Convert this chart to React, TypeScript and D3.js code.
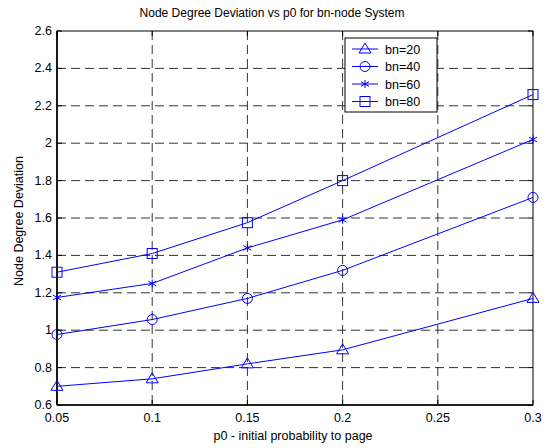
import React, { useEffect, useRef } from 'react';
import * as d3 from 'd3';

// valores
const p0 = [0.05, 0.1, 0.15, 0.2, 0.3];
const bn20 = [0.70, 0.74, 0.82, 0.895, 1.17];
const bn40 = [0.977, 1.057, 1.17, 1.32, 1.71];
const bn60 = [1.175, 1.25, 1.44, 1.59, 2.02];
const bn80 = [1.31, 1.41, 1.575, 1.80, 2.26];
const seriesNames = ['bn=20', 'bn=40', 'bn=60', 'bn=80'];
const markerKinds = ['triangle', 'circle', 'star', 'square'];
const xTicks = [0.05, 0.1, 0.15, 0.2, 0.25, 0.3];
const yTicks = [0.6, 0.8, 1, 1.2, 1.4, 1.6, 1.8, 2, 2.2, 2.4, 2.6];

const App = () => {
  const chartRef = useRef<SVGSVGElement | null>(null);

  useEffect(() => {
    const svg = d3.select(chartRef.current);
    svg.selectAll('*').remove();

    const W = 550;
    const H = 448;
    const left = 57, right = 533, top = 31, bottom = 405;
    const font = 'Liberation Sans, Arial, Helvetica, sans-serif';
    const blue = '#0000ff';

    const x = d3.scaleLinear().domain([0.05, 0.3]).range([left, right]);
    const y = d3.scaleLinear().domain([0.6, 2.6]).range([bottom, top]);

    svg.append('rect').attr('width', W).attr('height', H).attr('fill', '#fff');

    // grade tracejada
    const grid = svg.append('g').attr('stroke', '#333').attr('stroke-width', 1).attr('stroke-dasharray', '9,5');
    xTicks.slice(1, -1).forEach(t => {
      grid.append('line').attr('x1', x(t)).attr('x2', x(t)).attr('y1', top).attr('y2', bottom);
    });
    yTicks.slice(1, -1).forEach(t => {
      grid.append('line').attr('x1', left).attr('x2', right).attr('y1', y(t)).attr('y2', y(t));
    });

    // caixa dos eixos
    svg.append('rect')
      .attr('x', left).attr('y', top)
      .attr('width', right - left).attr('height', bottom - top)
      .attr('fill', 'none').attr('stroke', '#000').attr('stroke-width', 1);
    svg.append('line').attr('x1', left).attr('x2', left).attr('y1', top).attr('y2', bottom)
      .attr('stroke', '#000').attr('stroke-width', 1.6);
    svg.append('line').attr('x1', left).attr('x2', right).attr('y1', bottom).attr('y2', bottom)
      .attr('stroke', '#000').attr('stroke-width', 1.4);

    // ticks para dentro
    const ticks = svg.append('g').attr('stroke', '#000').attr('stroke-width', 1);
    xTicks.forEach(t => {
      ticks.append('line').attr('x1', x(t)).attr('x2', x(t)).attr('y1', bottom).attr('y2', bottom - 5);
      ticks.append('line').attr('x1', x(t)).attr('x2', x(t)).attr('y1', top).attr('y2', top + 5);
    });
    yTicks.forEach(t => {
      ticks.append('line').attr('x1', left).attr('x2', left + 5).attr('y1', y(t)).attr('y2', y(t));
      ticks.append('line').attr('x1', right).attr('x2', right - 5).attr('y1', y(t)).attr('y2', y(t));
    });

    // rótulos dos ticks
    svg.append('g').selectAll('text').data(xTicks).enter().append('text')
      .attr('x', d => x(d)).attr('y', bottom + 17)
      .attr('text-anchor', 'middle')
      .attr('font-family', font).attr('font-size', 12.5)
      .text(d => String(d));

    svg.append('g').selectAll('text').data(yTicks).enter().append('text')
      .attr('x', left - 5).attr('y', d => y(d) + 4)
      .attr('text-anchor', 'end')
      .attr('font-family', font).attr('font-size', 12.5)
      .text(d => String(d));

    // títulos
    svg.append('text').attr('x', 272).attr('y', 17).attr('text-anchor', 'middle')
      .attr('font-family', font).attr('font-size', 12)
      .text('Node Degree Deviation vs p0 for bn-node System');
    svg.append('text').attr('x', 293).attr('y', 440).attr('text-anchor', 'middle')
      .attr('font-family', font).attr('font-size', 12.5)
      .text('p0 - initial probability to page');
    svg.append('text').attr('transform', `translate(23,221) rotate(-90)`)
      .attr('text-anchor', 'middle')
      .attr('font-family', font).attr('font-size', 12.5)
      .text('Node Degree Deviation');

    const drawMarker = (g: any, kind: string, cx: number, cy: number) => {
      const m = g.append('g').attr('fill', 'none').attr('stroke', blue).attr('stroke-width', 1);
      if (kind === 'triangle') {
        m.append('path').attr('d', `M${cx},${cy - 6}L${cx + 6},${cy + 4}L${cx - 6},${cy + 4}Z`);
      } else if (kind === 'circle') {
        m.append('circle').attr('cx', cx).attr('cy', cy).attr('r', 5);
      } else if (kind === 'square') {
        m.append('rect').attr('x', cx - 5).attr('y', cy - 5).attr('width', 10).attr('height', 10);
      } else {
        const r = 4;
        m.append('path').attr('d',
          `M${cx},${cy - r}V${cy + r}` +
          `M${cx - r},${cy - r * 0.6}L${cx + r},${cy + r * 0.6}` +
          `M${cx - r},${cy + r * 0.6}L${cx + r},${cy - r * 0.6}`);
      }
    };

    const allSeries = [bn20, bn40, bn60, bn80];
    const line = d3.line<number>().x((d, i) => x(p0[i])).y(d => y(d));

    const plot = svg.append('g');
    allSeries.forEach((vals, si) => {
      plot.append('path').datum(vals).attr('d', line)
        .attr('fill', 'none').attr('stroke', blue).attr('stroke-width', 1);
      vals.forEach((v, i) => drawMarker(plot, markerKinds[si], x(p0[i]), y(v)));
    });

    // legenda
    const lg = svg.append('g');
    lg.append('rect').attr('x', 345).attr('y', 38).attr('width', 92).attr('height', 74)
      .attr('fill', '#fff').attr('stroke', '#000').attr('stroke-width', 1);
    seriesNames.forEach((name, i) => {
      const ly = 49 + i * 17.5;
      lg.append('line').attr('x1', 352).attr('x2', 378).attr('y1', ly).attr('y2', ly)
        .attr('stroke', blue).attr('stroke-width', 1);
      drawMarker(lg, markerKinds[i], 365, ly);
      lg.append('text').attr('x', 385).attr('y', ly + 4.5)
        .attr('font-family', font).attr('font-size', 12.5)
        .text(name);
    });
  }, []);

  return (
    <svg ref={chartRef} width={550} height={448}
      style={{ position: 'absolute', top: 0, left: 0, display: 'block' }} />
  );
};

export default App;
